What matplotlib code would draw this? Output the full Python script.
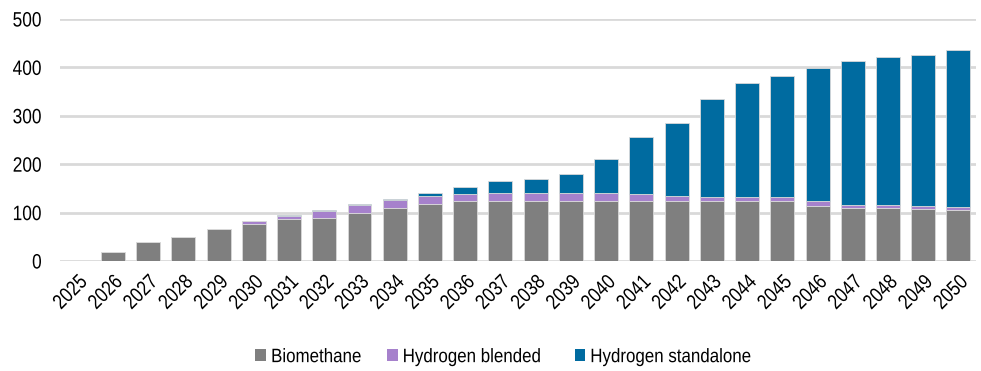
"""Stacked bar chart: biomethane and hydrogen volumes by year, 2025-2050."""

import numpy as np
import matplotlib
matplotlib.use("Agg")
import matplotlib.pyplot as plt
from matplotlib.patches import Patch
from matplotlib.patheffects import AbstractPathEffect
from matplotlib.transforms import Affine2D

years = [str(y) for y in range(2025, 2051)]
biomethane = [0, 19, 39, 49, 66, 76, 87, 89, 99, 110, 118, 123, 123, 123,
              123, 123, 123, 123, 123, 123, 123, 114, 110, 110, 108, 105]
h2_blended = [0, 0, 0, 0, 0, 7, 7, 15, 17, 15, 16, 16, 18, 18,
              18, 17, 15, 12, 10, 9, 9, 9, 6, 6, 6, 6]
h2_standalone = [0, 0, 0, 0, 0, 0, 2, 1, 2, 3.5, 7, 13, 25, 28,
                 38, 70, 118, 150, 201, 236, 251, 276, 298, 306, 312, 324]

series = [
    ("Biomethane", biomethane, "#7f7f7f"),
    ("Hydrogen blended", h2_blended, "#a681cc"),
    ("Hydrogen standalone", h2_standalone, "#006ba0"),
]


class Squeeze(AbstractPathEffect):
    """Narrow the glyphs horizontally (the original uses a narrow font)."""

    def __init__(self, sx, anchor="left"):
        super().__init__()
        self.sx = sx
        self.anchor = anchor

    def draw_path(self, renderer, gc, tpath, affine, rgbFace=None):
        ext = tpath.get_extents()
        x0 = ext.x1 if self.anchor == "right" else ext.x0
        t = Affine2D().translate(-x0, 0).scale(self.sx, 1).translate(x0, 0)
        renderer.draw_path(gc, tpath, t + affine, rgbFace)


plt.rcParams["font.family"] = ["Liberation Sans", "DejaVu Sans"]

fig = plt.figure(figsize=(9.81, 3.71), dpi=100)
ax = fig.add_axes([0.0612, 0.2965, 0.9338, 0.6523])

x = np.arange(len(years))
bottom = np.zeros(len(years))
for name, vals, color in series:
    vals = np.array(vals, dtype=float)
    ax.bar(x, vals, 0.68, bottom=bottom, color=color, edgecolor="#d9d9d9",
           linewidth=0.6, zorder=3)
    bottom += vals

ax.set_xlim(-0.5, len(years) - 0.5)
ax.set_ylim(0, 500)
ax.set_yticks(range(0, 501, 100))
ax.yaxis.grid(True, color="#d9d9d9", linewidth=2, zorder=0)
for s in ax.spines.values():
    s.set_visible(False)
ax.tick_params(axis="both", length=0, labelsize=15, colors="black")
ax.tick_params(axis="y", pad=13)
ax.tick_params(axis="x", pad=8)
ax.set_xticks(x)
ax.set_xticklabels(years, rotation=45, ha="right", rotation_mode="anchor")

for lab in ax.get_yticklabels() + ax.get_xticklabels():
    lab.set_path_effects([Squeeze(0.83, "right")])

handles = [Patch(facecolor=c, edgecolor="none") for _, _, c in series]
leg = fig.legend(handles, [n for n, _, _ in series], loc="center", ncol=3,
                 bbox_to_anchor=(0.526, 0.036), frameon=False, fontsize=14,
                 handlelength=0.55, handleheight=0.55, handletextpad=0.25,
                 columnspacing=0.6)
for t in leg.get_texts():
    t.set_path_effects([Squeeze(0.87, "left")])

fig.savefig("out.png", dpi=100)
